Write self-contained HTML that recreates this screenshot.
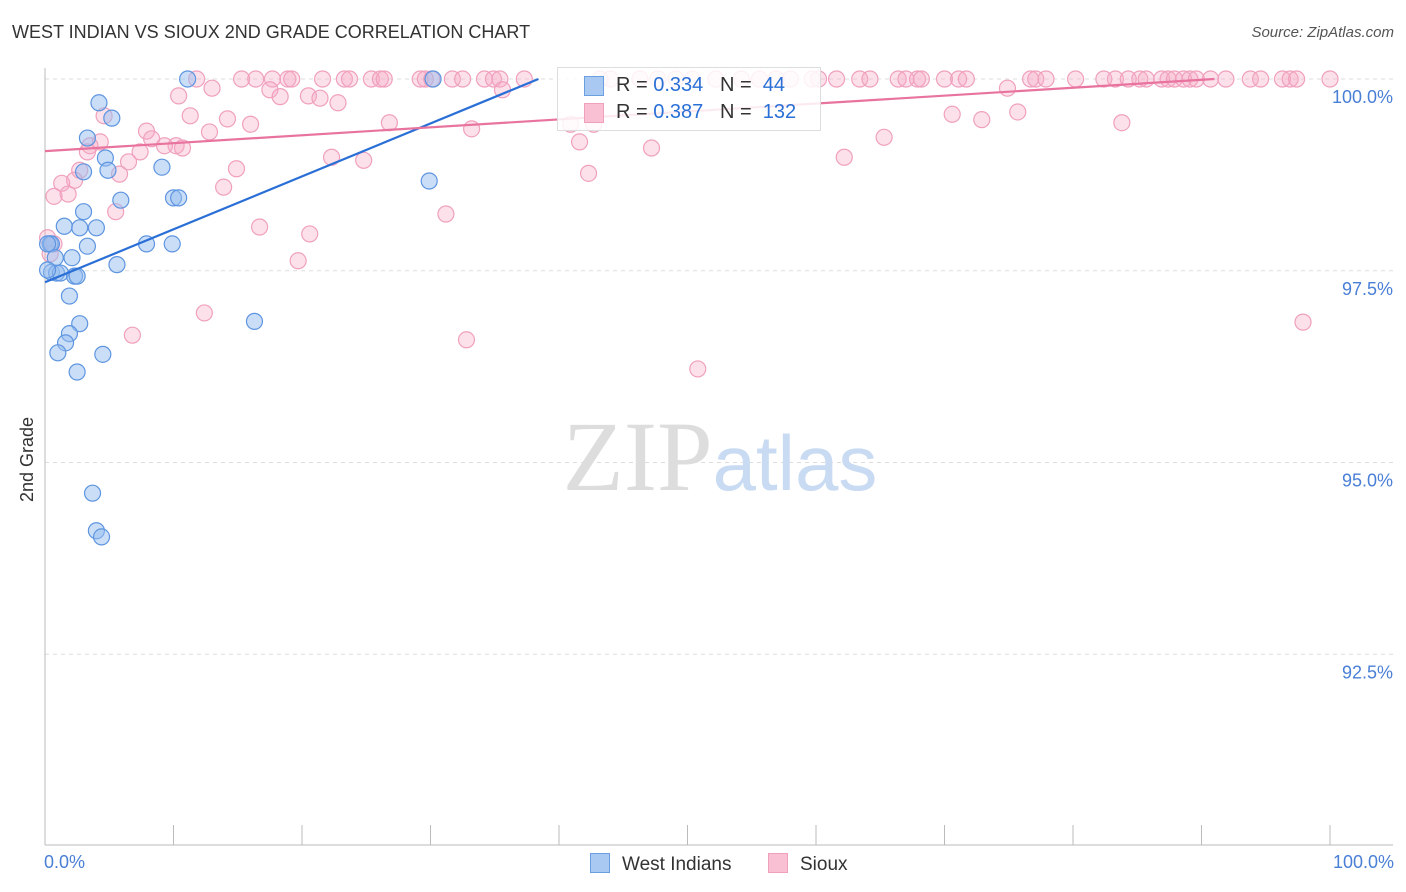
<!DOCTYPE html>
<html><head><meta charset="utf-8"><style>
body{margin:0;background:#fff;font-family:"Liberation Sans",sans-serif;}
#wrap{position:relative;width:1406px;height:892px;overflow:hidden;}
.t{position:absolute;white-space:nowrap;}
</style></head><body>
<div id="wrap">
<div class="t" style="left:12px;top:22px;font-size:18px;color:#333;">WEST INDIAN VS SIOUX 2ND GRADE CORRELATION CHART</div>
<div class="t" style="right:12px;top:24px;font-size:15px;color:#555;font-style:italic;">Source: ZipAtlas.com</div>
<svg id="plot" width="1406" height="892" style="position:absolute;left:0;top:0"></svg>
</div>
<script>
const yTicks=[100,97.5,95,92.5];
const yTickLabels=["100.0%","97.5%","95.0%","92.5%"];
const xTickVals=[10,20,30,40,50,60,70,80,90,100];
const wiX=[11.1,30.2,4.2,5.2,3.3,4.7,9.1,3.0,4.9,5.9,10.0,10.4,3.0,1.5,2.7,4.0,29.9,0.4,0.5,3.3,7.9,9.9,2.1,5.6,0.5,0.9,1.2,2.3,2.5,1.9,2.7,1.9,1.6,1.0,4.5,2.5,16.3,3.7,4.0,4.4,0.2,0.8,0.2];
const wiY=[100,100,99.69,99.49,99.23,98.97,98.85,98.79,98.81,98.42,98.45,98.45,98.27,98.08,98.06,98.06,98.67,97.85,97.85,97.82,97.85,97.85,97.67,97.58,97.48,97.47,97.47,97.43,97.43,97.17,96.81,96.68,96.56,96.43,96.41,96.18,96.84,94.60,94.11,94.03,97.85,97.67,97.51];
const sxTop=[15.3,16.4,17.7,18.9,19.2,21.6,23.3,23.7,25.4,26.1,26.4,29.2,29.6,30.1,31.7,32.5,34.2,34.9,35.4,37.3,43.2,44.0,46.3,47.7,49.1,50.4,52.2,54.2,55.6,56.9,58.0,59.7,60.2,61.6,63.4,64.2,66.4,67.0,67.9,68.2,70.0,71.1,71.7,76.7,77.1,77.9,80.2,82.4,83.3,84.3,85.2,85.7,86.9,87.4,87.9,88.6,89.1,89.6,90.7,91.9,93.8,94.6,96.3,96.9,97.4,100,11.8];
const sxOther=[10.4,13.0,17.5,18.3,20.5,21.4,22.8,4.6,11.3,14.2,16.0,26.8,7.9,12.8,8.3,10.2,3.5,4.3,9.3,10.7,7.4,3.3,6.5,22.3,24.8,14.9,2.7,5.8,2.3,1.3,13.9,1.8,0.7,5.5,31.2,16.7,20.6,19.7,0.7,0.4,12.4,6.8,32.8,50.8,97.9,33.2,35.6,41.6,42.3,47.2,40.9,42.7,62.2,65.3,70.6,72.9,74.9,75.7,83.8,0.2];
const syOther=[99.78,99.88,99.86,99.77,99.78,99.75,99.69,99.52,99.52,99.48,99.41,99.43,99.32,99.31,99.22,99.13,99.13,99.18,99.13,99.10,99.05,99.05,98.92,98.98,98.94,98.83,98.81,98.76,98.68,98.64,98.59,98.50,98.47,98.27,98.24,98.07,97.98,97.63,97.85,97.72,96.95,96.66,96.60,96.22,96.83,99.35,99.86,99.18,98.77,99.10,99.41,99.41,98.98,99.24,99.54,99.47,99.88,99.57,99.43,97.93];
const wiLine=[[0,97.35],[38.4,100]];
const sxLine=[[0,99.06],[91,100]];

const NS="http://www.w3.org/2000/svg";
const svg=document.getElementById('plot');
const X=v=>45+v*12.85;
const Y=v=>79+(100-v)*76.7;
function mk(tag,attrs,parent){const e=document.createElementNS(NS,tag);for(const k in attrs)e.setAttribute(k,attrs[k]);(parent||svg).appendChild(e);return e;}
yTicks.forEach((v,i)=>{
  const g=mk('line',{x1:45,x2:1393,y1:Y(v),y2:Y(v),stroke:'#ddd','stroke-dasharray':'4,4'});
  
  
  const t=mk('text',{x:1393,y:Y(v)+24,'text-anchor':'end','font-size':18,fill:'#4a7fd6','font-family':'Liberation Sans, sans-serif'});
  t.textContent=yTickLabels[i];
  
  
});
const ax=mk('line',{x1:45,x2:1393,y1:845,y2:845,stroke:'#bbb'});


const ay=mk('line',{x1:45,x2:45,y1:68,y2:845,stroke:'#bbb'});


xTickVals.forEach(v=>{const l=mk('line',{x1:X(v),x2:X(v),y1:825,y2:845,stroke:'#bbb'});
  
  });
const wm=mk('text',{x:720,y:490,'text-anchor':'middle','font-size':100,'font-family':'Liberation Serif, serif',fill:'#ddd'});
wm.innerHTML='<tspan>ZIP</tspan><tspan font-family="Liberation Sans, sans-serif" fill="#c8dbf2" font-size="78">atlas</tspan>';


function dot(x,y,cls){const c=mk('circle',{cx:X(x),cy:Y(y),r:8,fill:cls?'rgba(245,170,195,0.35)':'rgba(150,190,240,0.5)',stroke:cls?'#f0a0bd':'#5e95e0','stroke-width':1.2});
  
  }
sxTop.forEach(x=>dot(x,100,1));
sxOther.forEach((x,i)=>dot(x,syOther[i],1));
wiX.forEach((x,i)=>dot(x,wiY[i],0));
const l1=mk('line',{x1:X(wiLine[0][0]),y1:Y(wiLine[0][1]),x2:X(wiLine[1][0]),y2:Y(wiLine[1][1]),stroke:'#2a6fd6','stroke-width':2.2});


const l2=mk('line',{x1:X(sxLine[0][0]),y1:Y(sxLine[0][1]),x2:X(sxLine[1][0]),y2:Y(sxLine[1][1]),stroke:'#e8739e','stroke-width':2.2});


</script>
<div class="t" style="left:557px;top:67px;width:262px;height:62px;border:1px solid #ddd;background:rgba(255,255,255,0.85);font-size:20px;">
 <div style="position:absolute;left:26px;top:8px;width:18px;height:18px;background:#a9c8f2;border:1px solid #6a9fe0"></div>
 <div style="position:absolute;left:58px;top:6px;color:#333">R = <span style="color:#2a6fd6">0.334</span>&nbsp;&nbsp;&nbsp;N = &nbsp;<span style="color:#2a6fd6">44</span></div>
 <div style="position:absolute;left:26px;top:35px;width:18px;height:18px;background:#f8c0d2;border:1px solid #f0a0bd"></div>
 <div style="position:absolute;left:58px;top:33px;color:#333">R = <span style="color:#2a6fd6">0.387</span>&nbsp;&nbsp;&nbsp;N = &nbsp;<span style="color:#2a6fd6">132</span></div>
</div>
<div class="t" style="left:44px;top:852px;font-size:18px;color:#4a7fd6">0.0%</div>
<div class="t" style="right:12px;top:852px;font-size:18px;color:#4a7fd6">100.0%</div>
<div class="t" style="left:17px;top:502px;font-size:18px;color:#333;transform:rotate(-90deg);transform-origin:left top">2nd Grade</div>
<div class="t" style="left:590px;top:853px;font-size:19px;color:#333"><span style="display:inline-block;width:18px;height:18px;background:#a9c8f2;border:1px solid #6a9fe0;vertical-align:-3px;margin-right:12px"></span>West Indians</div>
<div class="t" style="left:768px;top:853px;font-size:19px;color:#333"><span style="display:inline-block;width:18px;height:18px;background:#f8c0d2;border:1px solid #f0a0bd;vertical-align:-3px;margin-right:12px"></span>Sioux</div>
</body></html>
